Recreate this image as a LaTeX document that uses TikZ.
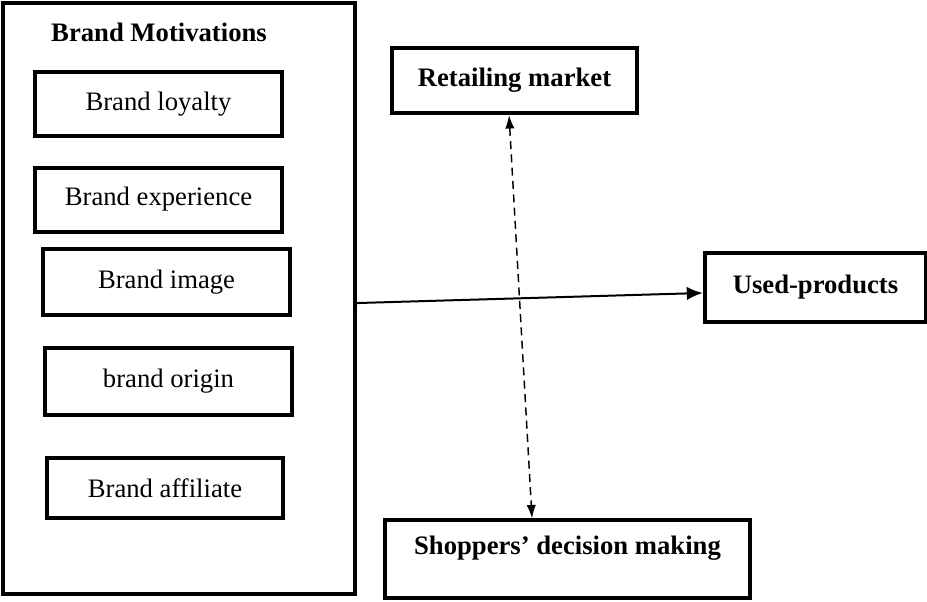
\documentclass[tikz,border=0pt]{standalone}
\usepackage{fontspec}
\setmainfont{Liberation Serif}
\usetikzlibrary{arrows.meta, positioning}
\tikzset{%
  frame/.style={draw, line width=3pt, minimum width=264pt, minimum height=443pt, inner sep=0pt},
  factor/.style={draw, line width=3pt, minimum width=185pt, minimum height=48pt, inner sep=0pt,
    font=\fontsize{20}{24}\selectfont},
  outcome/.style={draw, line width=3pt, inner sep=0pt, font=\fontsize{20}{24}\selectfont\bfseries},
  link/.style={line width=1.5pt, -{Latex[length=12pt,width=10pt]}},
  mutual/.style={line width=1.1pt, dash pattern=on 6pt off 4pt,
    {Latex[length=10pt,width=7pt]}-{Latex[length=10pt,width=7pt]}}
}

\begin{document}
\begin{tikzpicture}[x=0.75pt, y=-0.75pt]
  \useasboundingbox (0,0) rectangle (927,601);

  % brand motivations
  \node[frame] (motiv) at (179,298.5) {};
  \node[font=\fontsize{20}{24}\selectfont\bfseries] (title) at (159,32) {Brand Motivations};

  \node[factor] (loyal) at (158.5,104) {Brand loyalty};
  \node[factor] (exper) at (158.5,199.5) {Brand experience};
  \node[factor, minimum height=50pt] (image) at (166.5,282) {Brand image};
  \node[factor, minimum height=50pt] (origin) at (168.5,381.5) {brand origin};
  \node[factor, minimum width=177pt, minimum height=45pt] (affil) at (165,488) {Brand affiliate};

  % outcomes
  \node[outcome, minimum width=184pt, minimum height=49pt] (retail) at (514.5,80.5) {Retailing market};
  \node[outcome, minimum width=166pt, minimum height=52pt] (used) at (815.5,287.5) {Used-products};
  \node[outcome, minimum width=274pt, minimum height=58pt, text height=14pt, text depth=21pt]
    (shop) at (567.5,559) {Shoppers’ decision making};

  \draw[link] ([yshift=-3.4pt]motiv.east) -- ([yshift=-4.1pt]used.west);
  \draw[mutual] ([xshift=-4.1pt]retail.south) -- ([xshift=-26.6pt]shop.north);
\end{tikzpicture}
\end{document}
